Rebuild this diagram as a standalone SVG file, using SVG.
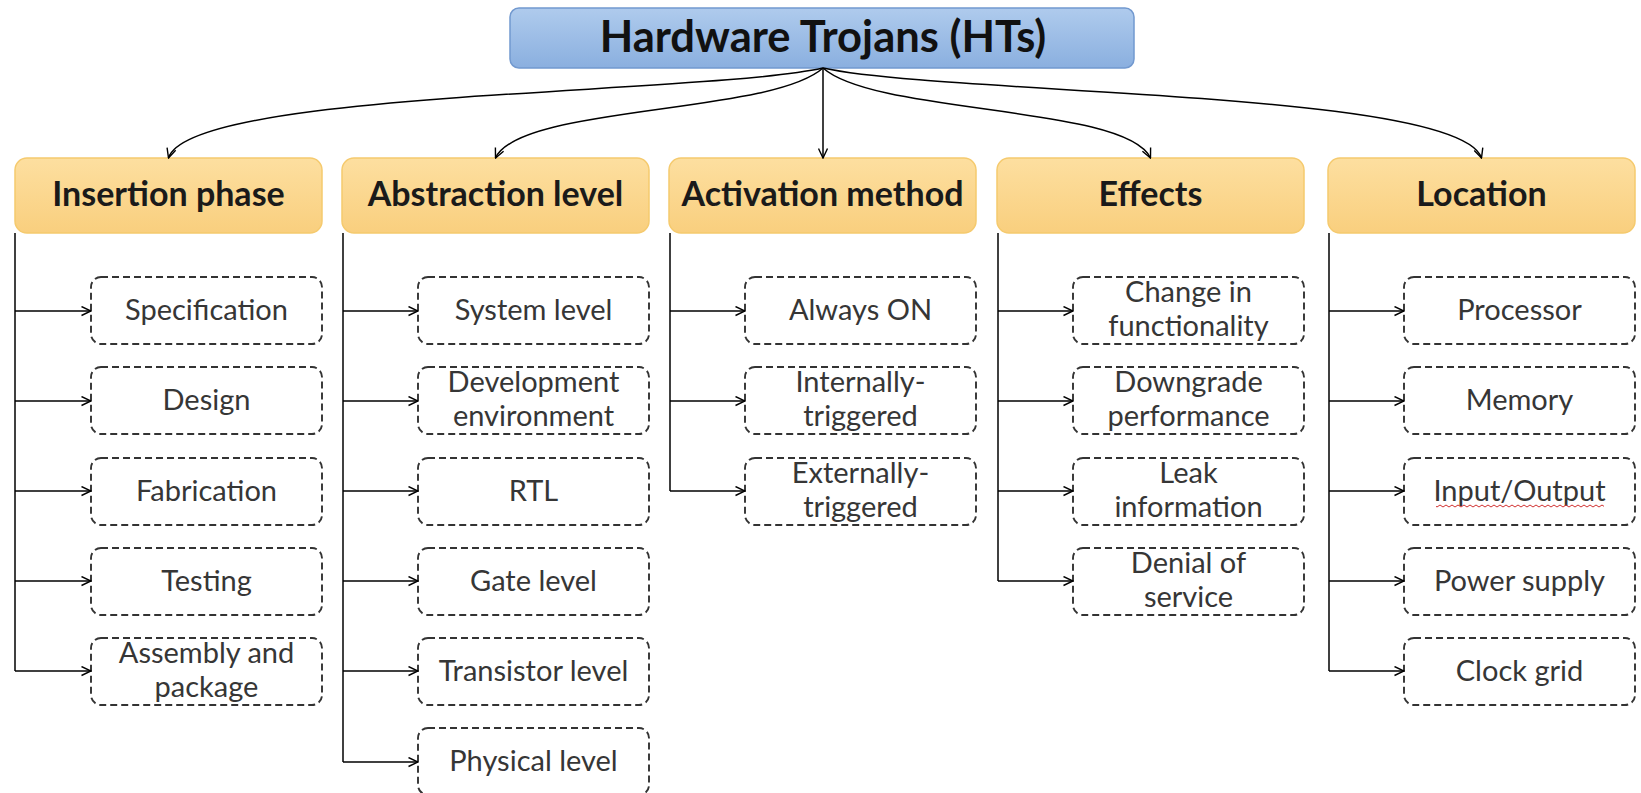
<svg xmlns="http://www.w3.org/2000/svg" width="1641" height="793" viewBox="0 0 1641 793">
  <defs>
    <linearGradient id="gTitle" x1="0" y1="0" x2="0" y2="1">
      <stop offset="0" stop-color="#afcbed"/>
      <stop offset="1" stop-color="#8aafdf"/>
    </linearGradient>
    <linearGradient id="gCat" x1="0" y1="0" x2="0" y2="1">
      <stop offset="0" stop-color="#fddfa0"/>
      <stop offset="1" stop-color="#f9cf7e"/>
    </linearGradient>
    <marker id="arr" viewBox="0 0 11 11" refX="10.5" refY="5.5" markerWidth="11" markerHeight="11" markerUnits="userSpaceOnUse" orient="auto">
      <path d="M1,1 L10.5,5.5 L1,10" fill="none" stroke="#000" stroke-width="1.4"/>
    </marker>
    <pattern id="wave" x="0" y="0" width="6" height="4" patternUnits="userSpaceOnUse">
      <path d="M0,1 L3,3 L6,1" fill="none" stroke="#d03030" stroke-width="1"/>
    </pattern>
    <style>
      .title { font-family: Lato, "Open Sans", sans-serif; font-weight: 700; font-size: 43.5px; fill: #111; text-anchor: middle; }
      .cat { fill: url(#gCat); stroke: #f5ca6e; stroke-width: 1.5; }
      .catText { font-family: Lato, "Open Sans", sans-serif; font-weight: 700; font-size: 34px; fill: #1a1a1a; text-anchor: middle; }
      .item { fill: #fff; stroke: #333; stroke-width: 1.9; stroke-dasharray: 7 4; }
      .itemText { font-family: Lato, "Open Sans", sans-serif; font-size: 29px; fill: #363636; text-anchor: middle; }
      .conn { fill: none; stroke: #000; stroke-width: 1.5; }
    </style>
  </defs>
  <rect x="0" y="0" width="1641" height="793" fill="#fff"/>

  <!-- Root -->
  <g id="root">
    <rect x="510" y="8" width="624" height="60" rx="9" fill="url(#gTitle)" stroke="#7299cf" stroke-width="1.5"/>
    <text class="title" x="823" y="52">Hardware Trojans (HTs)</text>
  </g>

  <!-- Category nodes -->
  <g id="cat-insertion">
    <rect class="cat" x="15" y="158" width="307" height="75" rx="12"/>
    <text class="catText" x="168.5" y="206">Insertion phase</text>
  </g>
  <g id="cat-abstraction">
    <rect class="cat" x="342" y="158" width="307" height="75" rx="12"/>
    <text class="catText" x="495.5" y="206">Abstraction level</text>
  </g>
  <g id="cat-activation">
    <rect class="cat" x="669" y="158" width="307" height="75" rx="12"/>
    <text class="catText" x="822.5" y="206">Activation method</text>
  </g>
  <g id="cat-effects">
    <rect class="cat" x="997" y="158" width="307" height="75" rx="12"/>
    <text class="catText" x="1150.5" y="206">Effects</text>
  </g>
  <g id="cat-location">
    <rect class="cat" x="1328" y="158" width="307" height="75" rx="12"/>
    <text class="catText" x="1481.5" y="206">Location</text>
  </g>

  <!-- Insertion phase items -->
  <g id="ins-spec"><rect class="item" x="91" y="277" width="231" height="67" rx="10"/><text class="itemText" x="206.5" y="320">Specification</text></g>
  <g id="ins-design"><rect class="item" x="91" y="367" width="231" height="67" rx="10"/><text class="itemText" x="206.5" y="410">Design</text></g>
  <g id="ins-fab"><rect class="item" x="91" y="458" width="231" height="67" rx="10"/><text class="itemText" x="206.5" y="501">Fabrication</text></g>
  <g id="ins-test"><rect class="item" x="91" y="548" width="231" height="67" rx="10"/><text class="itemText" x="206.5" y="591">Testing</text></g>
  <g id="ins-assembly"><rect class="item" x="91" y="638" width="231" height="67" rx="10"/><text class="itemText" x="206.5" y="663">Assembly and</text><text class="itemText" x="206.5" y="697">package</text></g>

  <!-- Abstraction level items -->
  <g id="abs-system"><rect class="item" x="418" y="277" width="231" height="67" rx="10"/><text class="itemText" x="533.5" y="320">System level</text></g>
  <g id="abs-dev"><rect class="item" x="418" y="367" width="231" height="67" rx="10"/><text class="itemText" x="533.5" y="392">Development</text><text class="itemText" x="533.5" y="426">environment</text></g>
  <g id="abs-rtl"><rect class="item" x="418" y="458" width="231" height="67" rx="10"/><text class="itemText" x="533.5" y="501">RTL</text></g>
  <g id="abs-gate"><rect class="item" x="418" y="548" width="231" height="67" rx="10"/><text class="itemText" x="533.5" y="591">Gate level</text></g>
  <g id="abs-transistor"><rect class="item" x="418" y="638" width="231" height="67" rx="10"/><text class="itemText" x="533.5" y="681">Transistor level</text></g>
  <g id="abs-physical"><rect class="item" x="418" y="728" width="231" height="67" rx="10"/><text class="itemText" x="533.5" y="771">Physical level</text></g>

  <!-- Activation method items -->
  <g id="act-always"><rect class="item" x="745" y="277" width="231" height="67" rx="10"/><text class="itemText" x="860.5" y="320">Always ON</text></g>
  <g id="act-internal"><rect class="item" x="745" y="367" width="231" height="67" rx="10"/><text class="itemText" x="860.5" y="392">Internally-</text><text class="itemText" x="860.5" y="426">triggered</text></g>
  <g id="act-external"><rect class="item" x="745" y="458" width="231" height="67" rx="10"/><text class="itemText" x="860.5" y="483">Externally-</text><text class="itemText" x="860.5" y="517">triggered</text></g>

  <!-- Effects items -->
  <g id="eff-change"><rect class="item" x="1073" y="277" width="231" height="67" rx="10"/><text class="itemText" x="1188.5" y="302">Change in</text><text class="itemText" x="1188.5" y="336">functionality</text></g>
  <g id="eff-downgrade"><rect class="item" x="1073" y="367" width="231" height="67" rx="10"/><text class="itemText" x="1188.5" y="392">Downgrade</text><text class="itemText" x="1188.5" y="426">performance</text></g>
  <g id="eff-leak"><rect class="item" x="1073" y="458" width="231" height="67" rx="10"/><text class="itemText" x="1188.5" y="483">Leak</text><text class="itemText" x="1188.5" y="517">information</text></g>
  <g id="eff-dos"><rect class="item" x="1073" y="548" width="231" height="67" rx="10"/><text class="itemText" x="1188.5" y="573">Denial of</text><text class="itemText" x="1188.5" y="607">service</text></g>

  <!-- Location items -->
  <g id="loc-proc"><rect class="item" x="1404" y="277" width="231" height="67" rx="10"/><text class="itemText" x="1519.5" y="320">Processor</text></g>
  <g id="loc-mem"><rect class="item" x="1404" y="367" width="231" height="67" rx="10"/><text class="itemText" x="1519.5" y="410">Memory</text></g>
  <g id="loc-io"><rect class="item" x="1404" y="458" width="231" height="67" rx="10"/><text class="itemText" x="1519.5" y="501">Input/Output</text>
    <rect x="1436" y="504" width="168" height="4" fill="url(#wave)"/>
  </g>
  <g id="loc-power"><rect class="item" x="1404" y="548" width="231" height="67" rx="10"/><text class="itemText" x="1519.5" y="591">Power supply</text></g>
  <g id="loc-clock"><rect class="item" x="1404" y="638" width="231" height="67" rx="10"/><text class="itemText" x="1519.5" y="681">Clock grid</text></g>

  <!-- Connectors -->
  <g id="connectors">
    <path class="conn" d="M823,68 C700,95 190,90 168.5,158" marker-end="url(#arr)"/>
    <path class="conn" d="M823,68 C770,115 520,105 495.5,158" marker-end="url(#arr)"/>
    <path class="conn" d="M823,68 L823,158" marker-end="url(#arr)"/>
    <path class="conn" d="M823,68 C876,115 1126,105 1150.5,158" marker-end="url(#arr)"/>
    <path class="conn" d="M823,68 C946,95 1459,90 1481.5,158" marker-end="url(#arr)"/>

    <path class="conn" d="M15,233 V671"/>
    <path class="conn" d="M15,311 H91" marker-end="url(#arr)"/>
    <path class="conn" d="M15,401 H91" marker-end="url(#arr)"/>
    <path class="conn" d="M15,491 H91" marker-end="url(#arr)"/>
    <path class="conn" d="M15,581 H91" marker-end="url(#arr)"/>
    <path class="conn" d="M15,671 H91" marker-end="url(#arr)"/>

    <path class="conn" d="M343,233 V762"/>
    <path class="conn" d="M343,311 H418" marker-end="url(#arr)"/>
    <path class="conn" d="M343,401 H418" marker-end="url(#arr)"/>
    <path class="conn" d="M343,491 H418" marker-end="url(#arr)"/>
    <path class="conn" d="M343,581 H418" marker-end="url(#arr)"/>
    <path class="conn" d="M343,671 H418" marker-end="url(#arr)"/>
    <path class="conn" d="M343,762 H418" marker-end="url(#arr)"/>

    <path class="conn" d="M670,233 V491"/>
    <path class="conn" d="M670,311 H745" marker-end="url(#arr)"/>
    <path class="conn" d="M670,401 H745" marker-end="url(#arr)"/>
    <path class="conn" d="M670,491 H745" marker-end="url(#arr)"/>

    <path class="conn" d="M998,233 V581"/>
    <path class="conn" d="M998,311 H1073" marker-end="url(#arr)"/>
    <path class="conn" d="M998,401 H1073" marker-end="url(#arr)"/>
    <path class="conn" d="M998,491 H1073" marker-end="url(#arr)"/>
    <path class="conn" d="M998,581 H1073" marker-end="url(#arr)"/>

    <path class="conn" d="M1329,233 V671"/>
    <path class="conn" d="M1329,311 H1404" marker-end="url(#arr)"/>
    <path class="conn" d="M1329,401 H1404" marker-end="url(#arr)"/>
    <path class="conn" d="M1329,491 H1404" marker-end="url(#arr)"/>
    <path class="conn" d="M1329,581 H1404" marker-end="url(#arr)"/>
    <path class="conn" d="M1329,671 H1404" marker-end="url(#arr)"/>
  </g>
</svg>
